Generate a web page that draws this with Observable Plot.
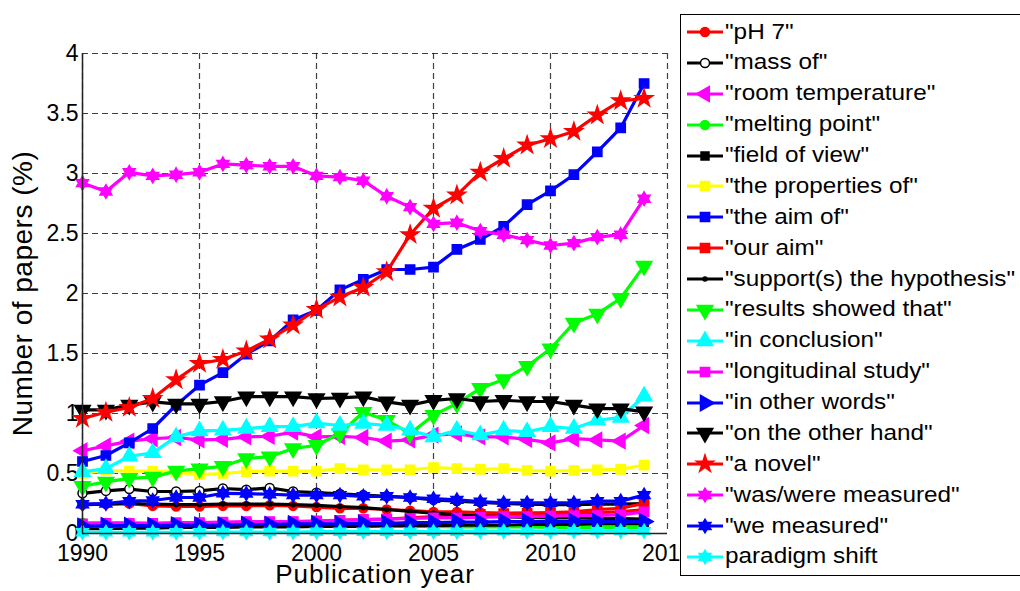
<!DOCTYPE html>
<html><head><meta charset="utf-8">
<script src="https://cdn.jsdelivr.net/npm/d3@7"></script>
<script src="https://cdn.jsdelivr.net/npm/@observablehq/plot@0.6"></script>
<style>
html,body{margin:0;padding:0;background:#fff;overflow:hidden;}
#wrap{position:relative;width:1020px;height:591px;font-family:"Liberation Sans",Arial,sans-serif;}
#legend{position:absolute;left:680px;top:14px;width:360px;height:562px;border:1.3px solid #000;background:#fff;box-sizing:border-box;}
.entry{position:absolute;left:0;height:30px;display:flex;align-items:center;font-size:21.5px;color:#000;white-space:nowrap;}
.entry svg{display:block;flex:none;}
.entry span{display:inline-block;transform:scaleX(1.13);transform-origin:left center;}
</style></head><body><div id="wrap"><div id="legend"></div></div>
<script>
const years = [1990,1991,1992,1993,1994,1995,1996,1997,1998,1999,2000,2001,2002,2003,2004,2005,2006,2007,2008,2009,2010,2011,2012,2013,2014];
const xTicks = [1990,1995,2000,2005,2010,2015];
const yTicks = [0,0.5,1,1.5,2,2.5,3,3.5,4];

const seriesNames = ['"pH 7"','"mass of"','"room temperature"','"melting point"','"field of view"','"the properties of"','"the aim of"','"our aim"','"support(s) the hypothesis"','"results showed that"','"in conclusion"','"longitudinal study"','"in other words"','"on the other hand"','"a novel"','"was/were measured"','"we measured"','paradigm shift'];

const pH7 = [0.24,0.245,0.25,0.23,0.225,0.225,0.23,0.23,0.235,0.23,0.22,0.21,0.21,0.2,0.19,0.18,0.18,0.175,0.17,0.17,0.165,0.17,0.175,0.18,0.2];
const massOf = [0.335,0.355,0.37,0.35,0.35,0.355,0.375,0.365,0.38,0.35,0.34,0.33,0.32,0.31,0.3,0.28,0.27,0.26,0.25,0.245,0.24,0.24,0.245,0.245,0.25];
const roomTemperature = [0.69,0.73,0.77,0.79,0.8,0.78,0.785,0.805,0.81,0.845,0.805,0.81,0.8,0.77,0.78,0.82,0.83,0.805,0.805,0.785,0.755,0.79,0.78,0.77,0.9];
const meltingPoint = [0.09,0.09,0.09,0.085,0.085,0.08,0.08,0.075,0.075,0.07,0.07,0.065,0.065,0.06,0.06,0.06,0.055,0.055,0.055,0.055,0.05,0.05,0.05,0.05,0.05];
const fieldOfView = [0.04,0.04,0.045,0.045,0.05,0.05,0.05,0.055,0.055,0.055,0.06,0.06,0.06,0.065,0.065,0.065,0.07,0.07,0.07,0.075,0.075,0.075,0.08,0.08,0.08];
const theProperties = [0.5,0.525,0.52,0.52,0.51,0.49,0.5,0.515,0.52,0.52,0.52,0.54,0.53,0.53,0.53,0.55,0.54,0.535,0.54,0.525,0.52,0.525,0.53,0.535,0.57];
const theAimOf = [0.6,0.65,0.755,0.875,1.07,1.236,1.34,1.494,1.605,1.78,1.86,2.03,2.117,2.2,2.2,2.22,2.367,2.45,2.56,2.74,2.855,2.99,3.18,3.38,3.75];
const ourAim = [0.06,0.06,0.065,0.07,0.07,0.075,0.08,0.085,0.09,0.095,0.1,0.11,0.115,0.12,0.13,0.14,0.15,0.16,0.165,0.17,0.175,0.18,0.2,0.21,0.25];
const supportsHypothesis = [0.24,0.245,0.25,0.245,0.24,0.24,0.245,0.245,0.245,0.24,0.235,0.225,0.215,0.2,0.185,0.17,0.155,0.145,0.14,0.135,0.13,0.13,0.125,0.125,0.12];
const resultsShowed = [0.394,0.43,0.46,0.47,0.52,0.54,0.56,0.625,0.64,0.708,0.735,0.833,1.01,0.944,0.833,0.986,1.083,1.21,1.283,1.394,1.54,1.755,1.83,1.96,2.23];
const inConclusion = [0.514,0.54,0.644,0.672,0.805,0.855,0.86,0.875,0.89,0.89,0.92,0.9,0.917,0.9,0.86,0.805,0.86,0.82,0.86,0.847,0.89,0.875,0.944,0.967,1.144];
const longitudinalStudy = [0.08,0.085,0.085,0.085,0.09,0.09,0.095,0.1,0.1,0.1,0.105,0.11,0.115,0.12,0.125,0.13,0.13,0.135,0.14,0.14,0.145,0.15,0.15,0.155,0.18];
const inOtherWords = [0.06,0.065,0.065,0.065,0.07,0.07,0.07,0.075,0.075,0.08,0.08,0.08,0.085,0.085,0.09,0.09,0.095,0.095,0.1,0.1,0.1,0.1,0.1,0.1,0.1];
const onTheOtherHand = [1.03,1.03,1.07,1.097,1.08,1.08,1.1,1.14,1.14,1.14,1.125,1.13,1.14,1.097,1.07,1.11,1.125,1.1,1.11,1.1,1.1,1.07,1.04,1.04,1.014];
const aNovel = [0.958,1.01,1.05,1.125,1.28,1.417,1.45,1.52,1.62,1.736,1.867,1.97,2.05,2.18,2.49,2.71,2.82,3.01,3.125,3.236,3.29,3.35,3.486,3.605,3.625];
const wasWereMeasured = [2.92,2.85,3.01,2.98,2.99,3.01,3.08,3.07,3.06,3.06,2.98,2.97,2.94,2.81,2.72,2.58,2.59,2.52,2.49,2.445,2.4,2.42,2.47,2.49,2.79];
const weMeasured = [0.244,0.25,0.27,0.275,0.3,0.3,0.335,0.333,0.327,0.32,0.32,0.32,0.31,0.31,0.3,0.29,0.28,0.265,0.255,0.255,0.255,0.255,0.27,0.27,0.32];
const paradigmShift = [0.01,0.01,0.01,0.01,0.01,0.01,0.012,0.012,0.012,0.012,0.015,0.015,0.015,0.015,0.015,0.015,0.015,0.018,0.018,0.018,0.018,0.02,0.02,0.02,0.02];

const seriesValues = [pH7,massOf,roomTemperature,meltingPoint,fieldOfView,theProperties,theAimOf,ourAim,supportsHypothesis,resultsShowed,inConclusion,longitudinalStudy,inOtherWords,onTheOtherHand,aNovel,wasWereMeasured,weMeasured,paradigmShift];

// marker shapes
const hexagram = {draw(ctx, size){
  const R = Math.sqrt(size/Math.PI)*1.25, r = R/Math.sqrt(3);
  for(let i=0;i<12;i++){const a=-Math.PI/2+i*Math.PI/6, rad=i%2===0?R:r; const x=rad*Math.cos(a), y=rad*Math.sin(a); if(i) ctx.lineTo(x,y); else ctx.moveTo(x,y);}
  ctx.closePath();
}};
const pentagram = {draw(ctx, size){
  const R = Math.sqrt(size/Math.PI)*1.3, r = R*0.382;
  for(let i=0;i<10;i++){const a=-Math.PI/2+i*Math.PI/5, rad=i%2===0?R:r; const x=rad*Math.cos(a), y=rad*Math.sin(a); if(i) ctx.lineTo(x,y); else ctx.moveTo(x,y);}
  ctx.closePath();
}};
const styles = [
  {c:"#ff0000", s:d3.symbolCircle, r:4.5},
  {c:"#000000", s:d3.symbolCircle, r:4.5, fill:"#fff"},
  {c:"#ff00ff", s:d3.symbolTriangle, r:5.5, rot:-90},
  {c:"#00ff00", s:d3.symbolCircle, r:4.5},
  {c:"#000000", s:d3.symbolSquare, r:4.5},
  {c:"#ffff00", s:d3.symbolSquare, r:5.2},
  {c:"#0000ff", s:d3.symbolSquare, r:5.2},
  {c:"#ff0000", s:d3.symbolSquare, r:5.2},
  {c:"#000000", s:d3.symbolCircle, r:2},
  {c:"#00ff00", s:d3.symbolTriangle, r:5.8, rot:180},
  {c:"#00ffff", s:d3.symbolTriangle, r:5.8},
  {c:"#ff00ff", s:d3.symbolSquare, r:5.2},
  {c:"#0000ff", s:d3.symbolTriangle, r:5.8, rot:90},
  {c:"#000000", s:d3.symbolTriangle, r:5.8, rot:180},
  {c:"#ff0000", s:pentagram, r:7},
  {c:"#ff00ff", s:hexagram, r:5.5},
  {c:"#0000ff", s:hexagram, r:5.5},
  {c:"#00ffff", s:hexagram, r:5.5}
];

const marks = [
  Plot.ruleX(xTicks, {stroke:"#000", strokeOpacity:0.75, strokeDasharray:"6,4", strokeWidth:1.2}),
  Plot.ruleY(yTicks, {stroke:"#000", strokeOpacity:0.75, strokeDasharray:"6,4", strokeWidth:1.2}),
];
seriesValues.forEach((vals, k) => {
  const st = styles[k];
  const data = years.map((yr, i) => ({year: yr, value: vals[i]}));
  marks.push(Plot.line(data, {x:"year", y:"value", stroke: st.c, strokeWidth: 3.2}));
  marks.push(Plot.dot(data, {x:"year", y:"value", symbol: st.s, r: st.r, fill: st.fill || st.c, stroke: st.c, strokeWidth: 1.5, rotate: st.rot || 0}));
});
marks.push(Plot.ruleX([xTicks[0]], {stroke:"#222", strokeWidth:1.5}));
marks.push(Plot.ruleY([yTicks[0]], {stroke:"#222", strokeWidth:1.5}));
marks.push(Plot.text(["Publication year"], {frameAnchor:"bottom", textAnchor:"middle", lineAnchor:"middle", dy:41, fontSize:26, fill:"#000"}));
marks.push(Plot.text(["Number of papers (%)"], {frameAnchor:"left", textAnchor:"middle", lineAnchor:"middle", rotate:-90, dx:-59, fontSize:28, fill:"#000"}));

const chart = Plot.plot({
  width: 1020, height: 591,
  marginLeft: 82, marginRight: 353, marginTop: 53, marginBottom: 58,
  x: {domain:[1990,2015], ticks: xTicks, tickFormat: d => String(d), tickSize: 0, tickPadding: 11, label: null},
  y: {domain:[0,4], ticks: yTicks, tickFormat: d => String(d), tickSize: 0, tickPadding: 4, label: null},
  style: {fontSize:"23px", fontFamily:'"Liberation Sans", Arial, sans-serif', background:"white", color:"#000", overflow:"visible"},
  marks
});
d3.select(chart).selectAll("text").filter(function(){ return this.textContent === "Publication year"; }).attr("letter-spacing","0.9px");
d3.select(chart).selectAll("text").filter(function(){ return this.textContent === "Number of papers (%)"; }).attr("letter-spacing","0.5px");
const wrap = document.getElementById("wrap");
wrap.insertBefore(chart, wrap.firstChild);

// legend
const legend = d3.select("#legend");
seriesNames.forEach((name, k) => {
  const st = styles[k];
  const e = legend.append("div").attr("class","entry").style("top", (2 + k*30.88) + "px");
  const svg = e.append("svg").attr("width",44).attr("height",30);
  svg.append("line").attr("x1",6).attr("x2",42).attr("y1",15).attr("y2",15).attr("stroke",st.c).attr("stroke-width",3);
  svg.append("path").attr("d", d3.symbol(st.s, st.r*st.r*Math.PI)())
    .attr("transform", `translate(24,15) rotate(${st.rot||0})`)
    .attr("fill", st.fill || st.c).attr("stroke", st.c).attr("stroke-width",1.5);
  e.append("span").text(name);
});
</script></body></html>
